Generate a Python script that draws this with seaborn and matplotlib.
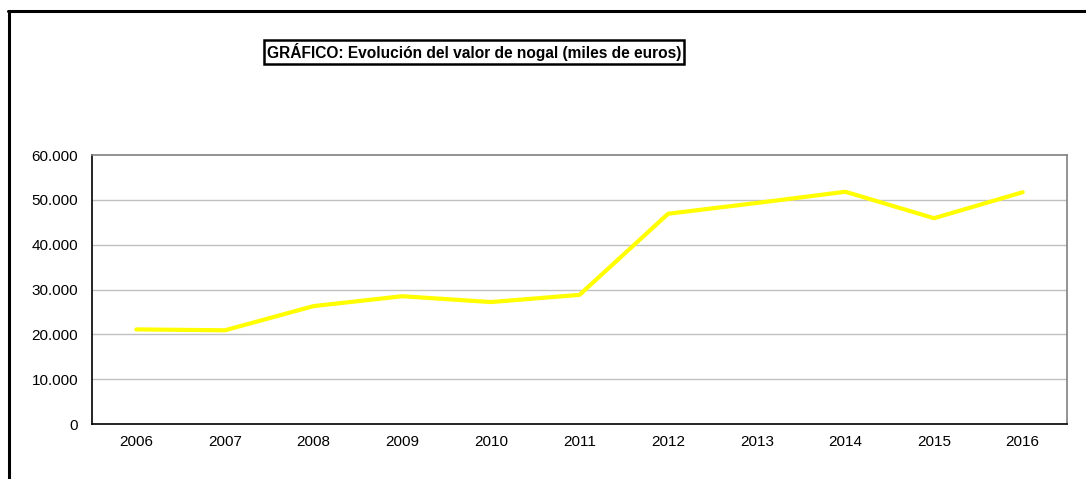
import numpy as np
import pandas as pd
import matplotlib
matplotlib.use("Agg")
import matplotlib.pyplot as plt
from matplotlib.ticker import FuncFormatter, FixedLocator
from matplotlib.lines import Line2D
import seaborn as sns

# Data (miles de euros)
years = ["2006", "2007", "2008", "2009", "2010", "2011",
         "2012", "2013", "2014", "2015", "2016"]
valor = [21100, 20900, 26300, 28500, 27200, 28800,
         46900, 49300, 51800, 45900, 51700]
y_ticks = [0, 10000, 20000, 30000, 40000, 50000, 60000]
title = "GRÁFICO: Evolución del valor de nogal (miles de euros)"

df = pd.DataFrame({"pos": np.arange(len(years)), "valor": valor})

sns.set_style("white")
plt.rcParams["font.family"] = ["Liberation Sans", "DejaVu Sans"]
plt.rcParams["text.color"] = "black"
plt.rcParams["xtick.color"] = "black"
plt.rcParams["ytick.color"] = "black"

W, H = 1086, 479
fig = plt.figure(figsize=(W / 100, H / 100), dpi=100)
ax = fig.add_axes([92 / W, 1 - 424 / H, (1067 - 92) / W, (424 - 155) / H])

sns.lineplot(data=df, x="pos", y="valor", color="#FFFF00", linewidth=3.0, ax=ax)

ax.set_xlim(-0.5, len(years) - 0.5)
ax.set_ylim(y_ticks[0], y_ticks[-1])
ax.set_xlabel("")
ax.set_ylabel("")

# category axis: ticks between categories, labels centred
ax.xaxis.set_major_locator(FixedLocator(np.arange(-0.5, len(years), 1.0)))
ax.xaxis.set_major_formatter(FuncFormatter(lambda v, p: ""))
ax.set_xticks(np.arange(len(years)), labels=years, minor=True)
ax.tick_params(axis="x", which="major", direction="out", length=5, width=1)
ax.tick_params(axis="x", which="minor", length=0, pad=8, labelsize=11)

ax.set_yticks(y_ticks)
ax.yaxis.set_major_formatter(FuncFormatter(lambda v, p: f"{int(v):,}".replace(",", ".")))
ax.tick_params(axis="y", direction="out", length=5, width=1, pad=5, labelsize=11)

for v in y_ticks[1:-1]:
    ax.axhline(v, color="#c0c0c0", linewidth=1.0, zorder=0)

ax.spines["left"].set_color("black")
ax.spines["bottom"].set_color("black")
ax.spines["top"].set_color("#808080")
ax.spines["right"].set_color("#808080")
for s in ax.spines.values():
    s.set_linewidth(1.2)

# title in a box
fig.text(474 / W, 1 - 52 / H, title, ha="center", va="center", fontsize=11.2,
         fontweight="bold",
         bbox=dict(boxstyle="square,pad=0.2", facecolor="white",
                   edgecolor="black", linewidth=1.8))

# outer chart frame (open at right and bottom)
fig.add_artist(Line2D([9 / W, 9 / W], [0, 1 - 11 / H], transform=fig.transFigure,
                      color="black", linewidth=2.2))
fig.add_artist(Line2D([8 / W, 1], [1 - 11 / H, 1 - 11 / H], transform=fig.transFigure,
                      color="black", linewidth=2.2))

fig.savefig("out.png", dpi=100)
